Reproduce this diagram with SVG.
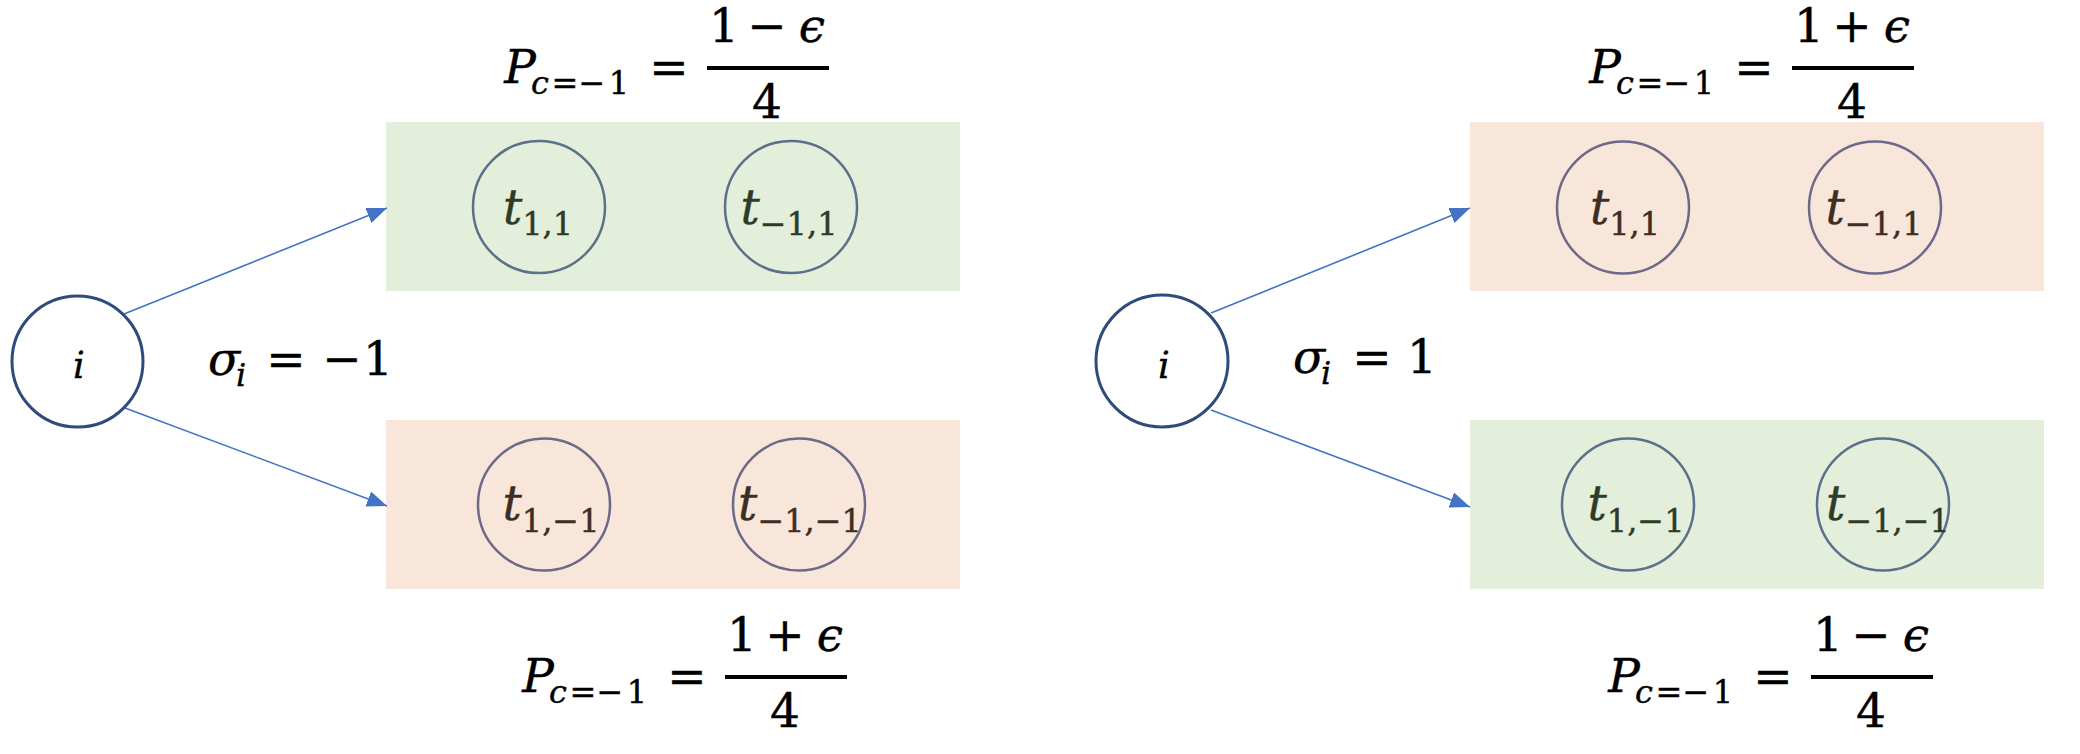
<svg xmlns="http://www.w3.org/2000/svg" width="2080" height="754" viewBox="0 0 2080 754">
<style>
.m{font-family:"DejaVu Serif","Liberation Serif",serif;fill:#000;stroke:#000;stroke-width:0.4}
.it{font-style:italic}
.big{font-size:47px}
.sub{font-size:32px}
.fs{font-size:32px}
.bar{stroke:#000;stroke-width:4}
.rg{fill:#e3eedb}
.ro{fill:#f9e6da}
.cg{fill:none;stroke:#5b7089;stroke-width:2.5}
.co{fill:none;stroke:#6c6a88;stroke-width:2.5}
.ni{fill:#fff;stroke:#2f4b7c;stroke-width:3}
.lg{fill:#2e3b27;stroke:#2e3b27;stroke-width:0.4}
.lo{fill:#3e2d22;stroke:#3e2d22;stroke-width:0.4}
.lbl{font-family:"DejaVu Serif","Liberation Serif",serif;font-size:48px;text-anchor:middle}
.conn{stroke:#4472c4;stroke-width:1.6;fill:none}
.c{text-anchor:middle}
</style>
<defs>
<marker id="ah" markerUnits="userSpaceOnUse" markerWidth="20" markerHeight="16" refX="20" refY="8" orient="auto">
<path d="M0,0 L20,8 L0,16 z" fill="#4472c4"/>
</marker>
<g id="frac-base">
<text class="m big it c" x="15" y="15">P</text>
<text class="m fs it c" x="35" y="26">c</text>
<text class="m fs c" x="60" y="26">=</text>
<text class="m fs c" x="87" y="26">−</text>
<text class="m fs c" x="114" y="26">1</text>
<text class="m big c" x="164" y="15">=</text>
<line class="bar" x1="202" y1="0" x2="324" y2="0"/>
<text class="m big c" x="219" y="-26">1</text>
<text class="m big it c" x="307" y="-26">ϵ</text>
<text class="m big c" x="262" y="50">4</text>
</g>
</defs>

<g id="left-top-box">
<rect class="rg" x="386" y="122" width="574" height="169"/>
</g>
<g id="left-bottom-box">
<rect class="ro" x="386" y="420" width="574" height="169"/>
</g>
<g id="right-top-box">
<rect class="ro" x="1470" y="122" width="574" height="169"/>
</g>
<g id="right-bottom-box">
<rect class="rg" x="1470" y="420" width="574" height="169"/>
</g>

<g id="connectors">
<line class="conn" x1="124" y1="314" x2="387" y2="208" marker-end="url(#ah)"/>
<line class="conn" x1="125" y1="408" x2="387" y2="506" marker-end="url(#ah)"/>
<line class="conn" x1="1211" y1="313" x2="1470" y2="208" marker-end="url(#ah)"/>
<line class="conn" x1="1211" y1="410" x2="1470" y2="507" marker-end="url(#ah)"/>
</g>

<g id="node-i-left">
<circle class="ni" cx="77.5" cy="361.5" r="65.5"/>
<text class="m it c" style="font-size:37px" x="79" y="378">i</text>
</g>

<g id="sigma-left">
<text class="m big it c" x="224" y="375">σ</text>
<text class="m fs it c" x="241" y="386">i</text>
<text class="m big c" x="286" y="375">=</text>
<text class="m big c" x="342" y="375">−</text>
<text class="m big c" x="378" y="375">1</text>
</g>

<g id="node-t11-left">
<circle class="cg" cx="539" cy="207" r="66"/>
<text class="lbl lg" x="538" y="224"><tspan class="it">t</tspan><tspan class="sub" dy="11">1,1</tspan></text>
</g>
<g id="node-tm11-left">
<circle class="cg" cx="791" cy="207" r="66"/>
<text class="lbl lg" x="789" y="224"><tspan class="it">t</tspan><tspan class="sub" dy="11">−1,1</tspan></text>
</g>
<g id="node-t1m1-left">
<circle class="co" cx="544" cy="504.5" r="66"/>
<text class="lbl lo" x="551" y="520"><tspan class="it">t</tspan><tspan class="sub" dy="12">1,−1</tspan></text>
</g>
<g id="node-tm1m1-left">
<circle class="co" cx="799" cy="504.5" r="66"/>
<text class="lbl lo" x="800" y="520"><tspan class="it">t</tspan><tspan class="sub" dy="12">−1,−1</tspan></text>
</g>

<g id="formula-left-top" transform="translate(505,68)">
<use href="#frac-base"/>
<text class="m big c" x="262" y="-26">−</text>
</g>
<g id="formula-left-bottom" transform="translate(523,677)">
<use href="#frac-base"/>
<text class="m big c" x="262" y="-26">+</text>
</g>

<g id="node-i-right">
<circle class="ni" cx="1162" cy="361" r="66"/>
<text class="m it c" style="font-size:37px" x="1164" y="378">i</text>
</g>

<g id="sigma-right">
<text class="m big it c" x="1309" y="373">σ</text>
<text class="m fs it c" x="1326" y="384">i</text>
<text class="m big c" x="1372" y="373">=</text>
<text class="m big c" x="1422" y="373">1</text>
</g>

<g id="node-t11-right">
<circle class="co" cx="1623" cy="207.5" r="66"/>
<text class="lbl lo" x="1625" y="224"><tspan class="it">t</tspan><tspan class="sub" dy="11">1,1</tspan></text>
</g>
<g id="node-tm11-right">
<circle class="co" cx="1875" cy="207.5" r="66"/>
<text class="lbl lo" x="1874" y="224"><tspan class="it">t</tspan><tspan class="sub" dy="11">−1,1</tspan></text>
</g>
<g id="node-t1m1-right">
<circle class="cg" cx="1628" cy="504.5" r="66"/>
<text class="lbl lg" x="1636" y="520"><tspan class="it">t</tspan><tspan class="sub" dy="12">1,−1</tspan></text>
</g>
<g id="node-tm1m1-right">
<circle class="cg" cx="1883" cy="504.5" r="66"/>
<text class="lbl lg" x="1888" y="520"><tspan class="it">t</tspan><tspan class="sub" dy="12">−1,−1</tspan></text>
</g>

<g id="formula-right-top" transform="translate(1590,68)">
<use href="#frac-base"/>
<text class="m big c" x="262" y="-26">+</text>
</g>
<g id="formula-right-bottom" transform="translate(1609,677)">
<use href="#frac-base"/>
<text class="m big c" x="262" y="-26">−</text>
</g>
</svg>
